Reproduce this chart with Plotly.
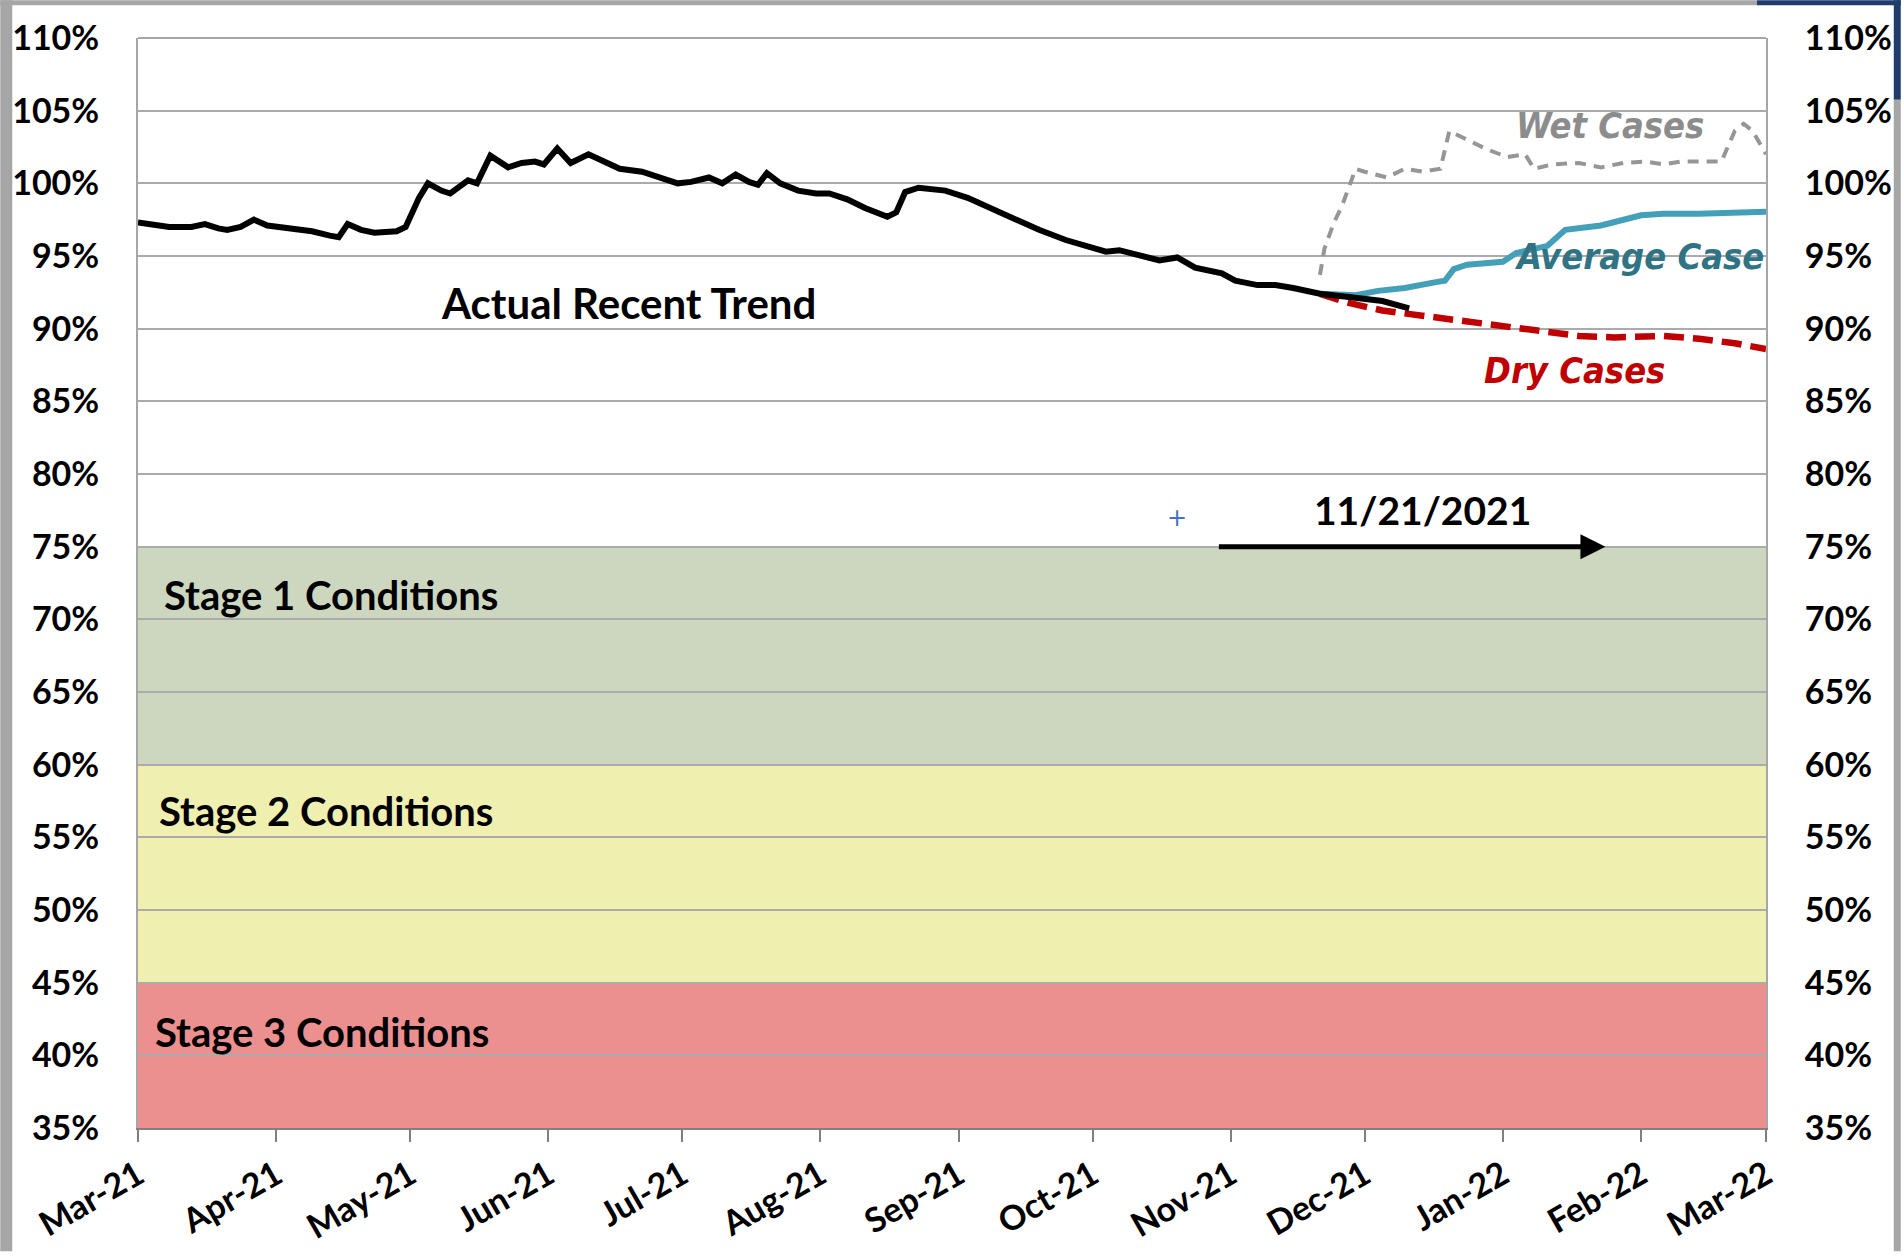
import plotly.graph_objects as go

# ---------------- data ----------------
actual_dates = ["2021-03-01","2021-03-04","2021-03-08","2021-03-13","2021-03-16","2021-03-19","2021-03-21",
    "2021-03-24","2021-03-27","2021-03-30","2021-04-04","2021-04-09","2021-04-13","2021-04-15","2021-04-17",
    "2021-04-20","2021-04-23","2021-04-28","2021-04-30","2021-05-03","2021-05-05","2021-05-08","2021-05-10",
    "2021-05-14","2021-05-16","2021-05-19","2021-05-23","2021-05-26","2021-05-29","2021-05-31","2021-06-03",
    "2021-06-06","2021-06-10","2021-06-13","2021-06-17","2021-06-22","2021-06-26","2021-06-30","2021-07-03",
    "2021-07-07","2021-07-10","2021-07-13","2021-07-16","2021-07-18","2021-07-20","2021-07-23","2021-07-27",
    "2021-07-31","2021-08-03","2021-08-07","2021-08-11","2021-08-16","2021-08-18","2021-08-20","2021-08-23",
    "2021-08-29","2021-09-03","2021-09-08","2021-09-14","2021-09-19","2021-09-25","2021-09-30","2021-10-04",
    "2021-10-07","2021-10-11","2021-10-16","2021-10-20","2021-10-24","2021-10-30","2021-11-02","2021-11-07",
    "2021-11-11","2021-11-15","2021-11-21","2021-11-27","2021-12-05","2021-12-11"]
actual_vals = [97.3,97.2,97.0,97.0,97.2,96.9,96.8,
    97.0,97.5,97.1,96.9,96.7,96.4,96.3,97.2,
    96.8,96.6,96.7,97.0,99.0,100.0,99.5,99.3,
    100.2,100.0,101.9,101.1,101.4,101.5,101.3,102.4,
    101.4,102.0,101.6,101.0,100.8,100.4,100.0,100.1,
    100.4,100.0,100.6,100.1,99.9,100.7,100.0,99.5,
    99.3,99.3,98.9,98.3,97.7,98.0,99.4,99.7,
    99.5,99.0,98.3,97.4,96.8,96.1,95.6,95.3,
    95.4,95.1,94.7,94.9,94.2,93.8,93.3,93.0,
    93.0,92.8,92.4,92.2,91.9,91.4]

wet_dates = ["2021-11-21","2021-11-22","2021-11-24","2021-11-26","2021-11-29","2021-12-01","2021-12-06",
    "2021-12-10","2021-12-14","2021-12-18","2021-12-20","2021-12-24","2021-12-28","2022-01-02","2022-01-06",
    "2022-01-08","2022-01-12","2022-01-18","2022-01-23","2022-01-28","2022-02-02","2022-02-06","2022-02-10",
    "2022-02-19","2022-02-22","2022-02-24","2022-02-26","2022-03-01"]
wet_vals = [93.7,95.5,97.2,98.5,101.0,100.8,100.4,
    101.0,100.8,101.0,103.6,103.0,102.4,101.8,102.0,
    101.0,101.3,101.4,101.1,101.4,101.5,101.3,101.5,
    101.5,103.6,104.1,103.6,102.0]

avg_dates = ["2021-11-21","2021-11-29","2021-12-04","2021-12-10","2021-12-17","2021-12-19","2021-12-21",
    "2021-12-24","2022-01-01","2022-01-04","2022-01-11","2022-01-15","2022-01-23","2022-01-26","2022-02-01",
    "2022-02-06","2022-02-14","2022-03-01"]
avg_vals = [92.4,92.3,92.6,92.8,93.2,93.3,94.1,
    94.4,94.6,95.2,95.7,96.8,97.1,97.3,97.8,
    97.9,97.9,98.05]

dry_dates = ["2021-11-21","2021-11-27","2021-12-05","2021-12-16","2021-12-27","2022-01-07","2022-01-18",
    "2022-01-26","2022-02-06","2022-02-14","2022-02-22","2022-03-01"]
dry_vals = [92.4,91.8,91.25,90.8,90.4,90.0,89.5,89.4,89.5,89.3,89.0,88.6]

tick_dates = ["2021-03-01","2021-04-01","2021-05-01","2021-06-01","2021-07-01","2021-08-01","2021-09-01",
    "2021-10-01","2021-11-01","2021-12-01","2022-01-01","2022-02-01","2022-03-01"]
tick_labels = ["Mar-21","Apr-21","May-21","Jun-21","Jul-21","Aug-21","Sep-21",
    "Oct-21","Nov-21","Dec-21","Jan-22","Feb-22","Mar-22"]

y_ticks = list(range(35, 111, 5))
y_labels = [f"{v}%" for v in y_ticks]

stage_names = ["Stage 1 Conditions", "Stage 2 Conditions", "Stage 3 Conditions"]
stage_low = [60, 45, 35]
stage_high = [75, 60, 45]
stage_colors = ["#CDD7BF", "#EFEFB0", "#EB8F8F"]

# ---------------- figure ----------------
FONT = "Lato"
COND = "DejaVu Sans Condensed, Roboto, sans-serif"
fig = go.Figure()

fig.add_trace(go.Scatter(x=wet_dates, y=wet_vals, mode="lines",
    line=dict(color="#969696", width=4, dash="11px,8px"), showlegend=False))
fig.add_trace(go.Scatter(x=dry_dates, y=dry_vals, mode="lines",
    line=dict(color="#C00000", width=6.5, dash="20px,9px"), showlegend=False))
fig.add_trace(go.Scatter(x=avg_dates, y=avg_vals, mode="lines",
    line=dict(color="#44A0B8", width=6), showlegend=False))
fig.add_trace(go.Scatter(x=actual_dates, y=actual_vals, mode="lines",
    line=dict(color="black", width=6), showlegend=False))
# invisible trace to activate right axis
fig.add_trace(go.Scatter(x=[tick_dates[0]], y=[35], yaxis="y2", mode="markers",
    marker=dict(opacity=0), showlegend=False, hoverinfo="skip"))

ML, MR, MT, MB = 138, 135, 38, 124
W = 1904.0 - ML - MR
H = 1258.0 - MT - MB
def px(p): return (p - ML) / W
def py(p): return (1258.0 - MB - p) / H

shapes = []
for lo, hi, c in zip(stage_low, stage_high, stage_colors):
    shapes.append(dict(type="rect", xref="paper", yref="y", x0=0, x1=1, y0=lo, y1=hi,
                       fillcolor=c, line=dict(width=0), layer="below"))
# outer frame strips (screenshot border)
shapes.append(dict(type="rect", xref="paper", yref="paper", x0=px(0), x1=px(12), y0=py(1258), y1=py(0),
                   fillcolor="#A6A6A6", line=dict(width=0)))
shapes.append(dict(type="rect", xref="paper", yref="paper", x0=px(0), x1=px(1760), y0=py(5), y1=py(0),
                   fillcolor="#A6A6A6", line=dict(width=0)))
shapes.append(dict(type="rect", xref="paper", yref="paper", x0=px(1760), x1=px(1904), y0=py(5), y1=py(0),
                   fillcolor="#1F3C6B", line=dict(width=0)))
shapes.append(dict(type="rect", xref="paper", yref="paper", x0=px(1897), x1=px(1904), y0=py(1258), y1=py(100),
                   fillcolor="#A6A6A6", line=dict(width=0)))
shapes.append(dict(type="rect", xref="paper", yref="paper", x0=px(1897), x1=px(1904), y0=py(100), y1=py(0),
                   fillcolor="#1F3C6B", line=dict(width=0)))
# top border of plot area
shapes.append(dict(type="line", xref="paper", yref="paper", x0=0, x1=1, y0=1, y1=1,
                   line=dict(color="#A6A6A6", width=2)))

annotations = []
annotations.append(dict(x="2021-06-19", y=91.75, text="Actual Recent Trend", showarrow=False,
                        font=dict(family=FONT, size=42, color="black", weight="bold")))
stage_text_y = [71.65, 56.8, 41.6]
stage_text_x = [0.0147, 0.0117, 0.0092]
for name, ty, tx in zip(stage_names, stage_text_y, stage_text_x):
    annotations.append(dict(xref="paper", x=tx, y=ty, text=name, showarrow=False,
                            xanchor="left", font=dict(family=FONT, size=40, color="black", weight="bold")))
annotations.append(dict(x="2021-12-14", y=77.5, text="11/21/2021", showarrow=False,
                        font=dict(family=FONT, size=39, color="black", weight="bold")))
annotations.append(dict(x="2022-01-24", y=75, ax="2021-10-29", ay=75, axref="x", ayref="y",
                        text="", showarrow=True, arrowhead=2, arrowsize=1, arrowwidth=5,
                        arrowcolor="black", standoff=0, startstandoff=0))
annotations.append(dict(x="2021-10-20", y=77.0, text="+", showarrow=False,
                        font=dict(family="DejaVu Sans", size=24, color="#4472C4")))
annotations.append(dict(x="2022-01-25", y=104.0, text="Wet Cases", showarrow=False,
                        font=dict(family=COND, size=36, color="#8C8C8C", weight="bold", style="italic")))
annotations.append(dict(x="2022-03-01", y=95.0, xanchor="right", text="Average Case", showarrow=False,
                        font=dict(family=COND, size=36, color="#2F7385", weight="bold", style="italic")))
annotations.append(dict(x="2022-01-17", y=87.1, text="Dry Cases", showarrow=False,
                        font=dict(family=COND, size=36, color="#C00000", weight="bold", style="italic")))

tickfont = dict(family=FONT, size=34, color="black", weight="bold")

fig.update_layout(
    width=1904, height=1258,
    margin=dict(l=ML, r=MR, t=MT, b=MB),
    paper_bgcolor="white", plot_bgcolor="white",
    shapes=shapes, annotations=annotations,
    xaxis=dict(type="date", range=["2021-03-01", "2022-03-01"],
               tickvals=tick_dates, ticktext=tick_labels, tickangle=-30,
               tickfont=tickfont, showgrid=False, ticks="outside", ticklen=12,
               tickcolor="#808080", tickwidth=2,
               showline=True, linecolor="#808080", linewidth=2, mirror=False),
    yaxis=dict(range=[35, 110], tickvals=y_ticks, ticktext=y_labels, tickfont=tickfont,
               showgrid=True, gridcolor="#ABABAB", gridwidth=1.5, zeroline=False,
               showline=True, linecolor="#A6A6A6", linewidth=2, ticks="",
               ticklabelstandoff=30),
    yaxis2=dict(range=[35, 110], tickvals=y_ticks, ticktext=y_labels, tickfont=tickfont,
                overlaying="y", side="right", showgrid=False, zeroline=False,
                showline=True, linecolor="#A6A6A6", linewidth=2, ticks="",
                ticklabelstandoff=30),
)

fig.write_html("out.html", config={"displayModeBar": False},
               post_script="document.body.style.margin='0';document.body.style.overflow='hidden';")
